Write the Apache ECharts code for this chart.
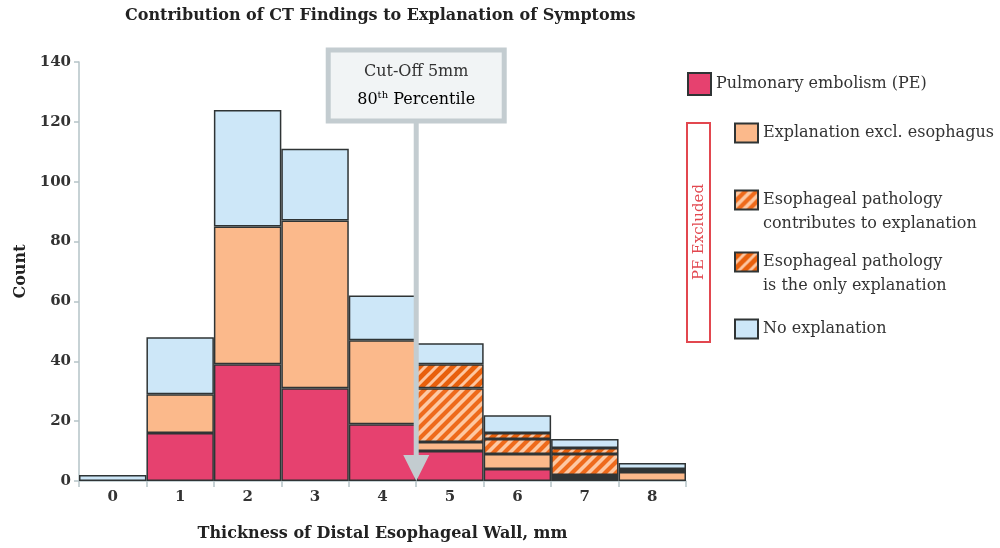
<!DOCTYPE html>
<html>
<head>
<meta charset="utf-8">
<script src="https://cdn.jsdelivr.net/npm/echarts@6/dist/echarts.min.js"></script>
<style>
html,body{margin:0;padding:0;background:#fff;}
#c{width:1000px;height:548px;}
</style>
</head>
<body>
<div id="c"></div>
<script>
// ---- data ----
const categories = ['0','1','2','3','4','5','6','7','8'];
const seriesNames = [
  'Pulmonary embolism (PE)',
  'Explanation excl. esophagus',
  'Esophageal pathology\ncontributes to explanation',
  'Esophageal pathology\nis the only explanation',
  'No explanation'
];
const pe        = [0, 16, 39, 31, 19, 10, 4, 1, 0];
const exclEso   = [0, 13, 46, 56, 28,  3, 5, 1, 3];
const contrib   = [0,  0,  0,  0,  0, 18, 5, 7, 0];
const onlyEso   = [0,  0,  0,  0,  0,  8, 2, 2, 1];
const noExpl    = [2, 19, 39, 24, 15,  7, 6, 3, 2];
const yTicks = [0, 20, 40, 60, 80, 100, 120, 140];
const cutoffBetween = ['4', '5'];

// ---- patterns ----
function hatch(bg, fg, w) {
  const s = 11;
  const c = document.createElement('canvas');
  c.width = s; c.height = s;
  const g = c.getContext('2d');
  g.fillStyle = bg; g.fillRect(0, 0, s, s);
  g.strokeStyle = fg; g.lineWidth = w; g.lineCap = 'square';
  g.beginPath();
  [-s, 0, s].forEach(k => { g.moveTo(k, s); g.lineTo(k + s, 0); });
  g.stroke();
  return { image: c, repeat: 'repeat' };
}

const FONT = 'DejaVu Serif';
const colors = [
  '#e6416f',
  '#fbb98b',
  hatch('#fdc8a2', '#ee6a1b', 4.2),
  hatch('#e8600c', '#fdc6a0', 3.0),
  '#cde7f8'
];
const values = [pe, exclEso, contrib, onlyEso, noExpl];

const chart = echarts.init(document.getElementById('c'), null, { renderer: 'canvas' });

const series = seriesNames.map((n, i) => ({
  name: n,
  type: 'bar',
  stack: 'total',
  barCategoryGap: 0,
  data: values[i].map(v => (v === 0 ? '-' : v)),
  itemStyle: { color: colors[i], borderColor: '#2f3435', borderWidth: 1.5 },
  emphasis: { disabled: true },
  animation: false
}));

function legendFor(idx, left, top, ih) {
  return {
    show: true,
    orient: 'vertical',
    left: left, top: top,
    padding: 0,
    selectedMode: false,
    data: [seriesNames[idx]],
    icon: 'rect',
    itemWidth: 23,
    itemHeight: ih,
    formatter: name => (name.indexOf('\n') >= 0 ? '\n' + name : name),
    textStyle: { fontFamily: FONT, fontSize: 16, color: '#333', lineHeight: 24 }
  };
}

chart.setOption({
  animation: false,
  title: {
    text: 'Contribution of CT Findings to Explanation of Symptoms',
    left: 120, top: 3,
    textStyle: { fontFamily: FONT, fontWeight: 'bold', fontSize: 16, color: '#222' }
  },
  grid: { left: 79, top: 62, right: 314, bottom: 67, containLabel: false },
  legend: [
    legendFor(0, 687, 72, 22),
    legendFor(1, 734, 121, 19),
    legendFor(2, 734, 164, 19),
    legendFor(3, 734, 226, 19),
    legendFor(4, 734, 317, 19)
  ],
  xAxis: {
    type: 'category',
    data: categories,
    boundaryGap: true,
    name: 'Thickness of Distal Esophageal Wall, mm',
    nameLocation: 'middle',
    nameGap: 45,
    nameTextStyle: { fontFamily: FONT, fontWeight: 'bold', fontSize: 16, color: '#222' },
    axisLine: { lineStyle: { color: '#b5c3c7', width: 1.5 } },
    axisTick: { show: true, alignWithLabel: false, length: 6, lineStyle: { color: '#b5c3c7', width: 1.5 } },
    axisLabel: { fontFamily: FONT, fontWeight: 'bold', fontSize: 15, color: '#333', margin: 9 }
  },
  yAxis: {
    type: 'value',
    min: yTicks[0], max: yTicks[yTicks.length - 1], interval: yTicks[1] - yTicks[0],
    name: 'Count',
    nameLocation: 'middle',
    nameGap: 50,
    nameRotate: 90,
    nameTextStyle: { fontFamily: FONT, fontWeight: 'bold', fontSize: 16, color: '#222' },
    axisLine: { show: true, lineStyle: { color: '#b5c3c7', width: 1.5 } },
    axisTick: { show: true, length: 5, lineStyle: { color: '#b5c3c7', width: 1.5 } },
    splitLine: { show: false },
    axisLabel: { fontFamily: FONT, fontWeight: 'bold', fontSize: 15, color: '#333', margin: 8 }
  },
  series: series
});

// ---- annotations positioned through the axes ----
const xa = chart.convertToPixel({ xAxisIndex: 0 }, cutoffBetween[0]);
const xb = chart.convertToPixel({ xAxisIndex: 0 }, cutoffBetween[1]);
const xc = (xa + xb) / 2;
const y0 = chart.convertToPixel({ yAxisIndex: 0 }, yTicks[0]);
const yTop = chart.convertToPixel({ yAxisIndex: 0 }, yTicks[yTicks.length - 1]);
const boxW = 176, boxTop = yTop - 12, boxH = 71;
const arrowCol = '#c3ccd0';

chart.setOption({
  graphic: [
    {
      type: 'line', z: 100,
      shape: { x1: xc, y1: boxTop + boxH, x2: xc, y2: y0 - 24 },
      style: { stroke: arrowCol, lineWidth: 5 }
    },
    {
      type: 'polygon', z: 100,
      shape: { points: [[xc - 13, y0 - 26], [xc + 13, y0 - 26], [xc, y0]] },
      style: { fill: arrowCol }
    },
    {
      type: 'rect', z: 100,
      shape: { x: xc - boxW / 2, y: boxTop, width: boxW, height: boxH },
      style: { fill: '#f1f4f5', stroke: arrowCol, lineWidth: 5 }
    },
    {
      type: 'text', z: 101,
      style: {
        x: xc, y: boxTop + 22, text: 'Cut-Off 5mm', align: 'center', verticalAlign: 'middle',
        font: '16px "DejaVu Serif"', fill: '#333'
      }
    },
    {
      type: 'text', z: 101,
      style: {
        x: xc, y: boxTop + 50, align: 'center', verticalAlign: 'middle',
        text: '{a|80}{s|th}{a| Percentile}',
        rich: {
          a: { fontFamily: FONT, fontSize: 16, color: '#333' },
          s: { fontFamily: FONT, fontSize: 10, color: '#333', padding: [0, 0, 10, 0] }
        }
      }
    },
    {
      type: 'rect', z: 50,
      shape: { x: 687, y: 123, width: 23, height: 219 },
      style: { fill: 'none', stroke: '#e2474f', lineWidth: 2 }
    },
    {
      type: 'text', z: 51,
      x: 699, y: 232, rotation: Math.PI / 2,
      style: {
        x: 0, y: 0, text: 'PE Excluded', align: 'center', verticalAlign: 'middle',
        font: '15px "DejaVu Serif"', fill: '#e2474f'
      }
    }
  ]
});
</script>
</body>
</html>
